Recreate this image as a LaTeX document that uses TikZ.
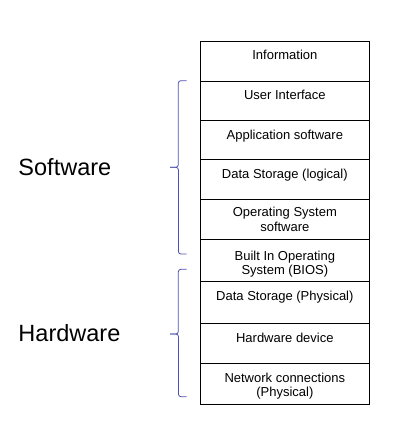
\documentclass[tikz,border=0pt]{standalone}
\usepackage{fontspec}
\setmainfont{Liberation Sans}
\usetikzlibrary{positioning}
\definecolor{braceblue}{RGB}{80,80,176}
\tikzset{
    layer/.style={draw, line width=0.8pt, minimum width=168.3pt, inner sep=0pt, outer sep=0pt, anchor=north},
    layertext/.style={anchor=north, inner sep=0pt, align=center, font=\fontsize{13}{14.8}\selectfont},
    group/.style={anchor=base west, inner sep=0pt, font=\fontsize{23.5}{28}\selectfont},
    brace/.style={draw=braceblue, line width=0.8pt, rounded corners=2.5pt},
}

\begin{document}
\begin{tikzpicture}[x=1pt, y=-1pt]
    \useasboundingbox (0,0) rectangle (401,440);

    % Stack of layers
    \node[layer, minimum height=40pt] (info) at (284.85,41) {};
    \node[layer, minimum height=39.3pt, below=0pt of info] (ui) {};
    \node[layer, minimum height=39.3pt, below=0pt of ui] (app) {};
    \node[layer, minimum height=39.4pt, below=0pt of app] (dsl) {};
    \node[layer, minimum height=40pt, below=0pt of dsl] (os) {};
    \node[layer, minimum height=42.7pt, below=0pt of os] (bios) {};
    \node[layer, minimum height=41.3pt, below=0pt of bios] (dsp) {};
    \node[layer, minimum height=40pt, below=0pt of dsp] (hw) {};
    \node[layer, minimum height=41pt, below=0pt of hw] (net) {};
    \draw[line width=1.4pt] (dsp.north west) -- (dsp.north east);

    % Layer texts
    \node[layertext] (infoT) at ([yshift=-9pt]info.north) {Information};
    \node[layertext] (uiT) at ([yshift=-9pt]ui.north) {User Interface};
    \node[layertext] (appT) at ([yshift=-9.5pt]app.north) {Application software};
    \node[layertext] (dslT) at ([yshift=-9.5pt]dsl.north) {Data Storage (logical)};
    \node[layertext] (osT) at ([yshift=-8pt]os.north) {Operating System\\software};
    \node[layertext] (biosT) at ([yshift=-11.5pt]bios.north) {Built In Operating\\System (BIOS)};
    \node[layertext] (dspT) at ([yshift=-9.5pt]dsp.north) {Data Storage (Physical)};
    \node[layertext] (hwT) at ([yshift=-10pt]hw.north) {Hardware device};
    \node[layertext] (netT) at ([yshift=-9.5pt]net.north) {Network connections\\(Physical)};

    % Software brace
    \coordinate (swTop) at (186.7,80.7);
    \coordinate (swTip) at (170,167.3);
    \coordinate (swBot) at (186.7,254);
    \draw[brace] (swTop) -- ++(-8.4,0) |- (swTip);
    \draw[brace] (swTip) -- ++(8.4,0) |- (swBot);
    \node[group] (sw) at (18.3,175.7) {Software};

    % Hardware brace
    \coordinate (hwTop) at (186.7,269.3);
    \coordinate (hwTip) at (170,334);
    \coordinate (hwBot) at (186.7,396.7);
    \draw[brace] (hwTop) -- ++(-8.4,0) |- (hwTip);
    \draw[brace] (hwTip) -- ++(8.4,0) |- (hwBot);
    \node[group] (hwL) at (18.3,341.7) {Hardware};
\end{tikzpicture}
\end{document}
